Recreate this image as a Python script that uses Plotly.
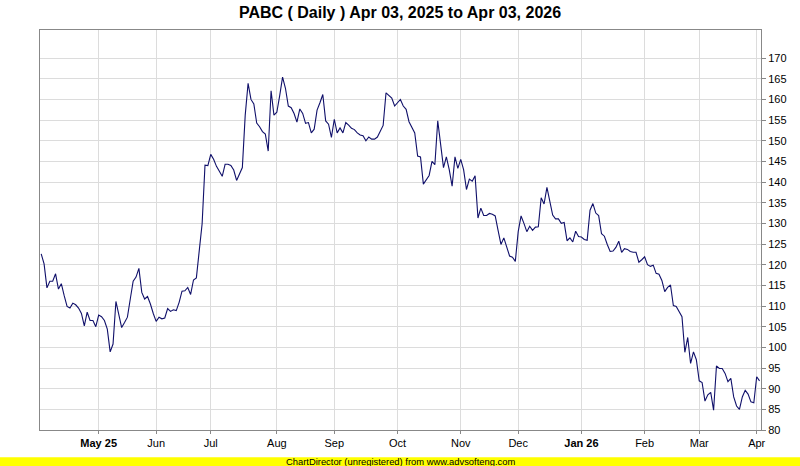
import pandas as pd
import plotly.graph_objects as go

# ---- data ----
start_date = "2025-04-03"
end_date = "2026-04-03"
# weekdays with no bar in the series (month-tick spacing)
missing_days = ["2025-05-16", "2025-05-26", "2025-06-06", "2025-06-19",
                "2025-08-15", "2025-10-13", "2025-12-25", "2026-02-16",
                "2026-03-13", "2026-03-27", "2026-04-03"]

close_apr_jun = [122.6, 120.2, 114.4, 116.0, 116.0, 117.8, 114.1, 115.4, 112.5,
                 109.9, 109.5, 110.7, 110.3, 109.5, 108.2, 105.2, 108.5, 106.5, 106.5, 105.0, 107.8,
                 107.4, 106.5, 104.4, 98.9, 100.8, 111.1, 108.1, 104.8, 106.0, 107.3, 111.7, 116.0, 117.0,
                 119.1, 113.3, 111.7, 112.3, 110.5, 108.2,
                 106.3, 107.3, 106.9, 107.1, 109.4, 108.7, 109.1, 108.9, 110.9, 113.6, 113.7, 114.5,
                 112.8, 116.3, 116.8]
close_jul_sep = [123.4, 129.9, 144.1,
                 144.0, 146.7, 145.5, 143.8, 142.4, 141.4, 144.3, 144.3, 144.0, 142.9, 140.4, 142.1,
                 143.5, 156.2, 163.9, 160.0, 158.9, 154.3, 153.4, 152.2, 151.6, 147.5,
                 162.1, 156.2, 156.9, 160.9, 165.4, 162.7, 158.4, 158.0, 156.6, 154.5, 157.7, 156.6,
                 154.2, 154.4, 151.9, 152.8, 157.4, 159.2, 161.2, 154.8, 154.0, 150.8]
close_oct_dec = [155.2, 151.9, 153.1, 151.9, 154.4, 153.8, 153.0, 152.7, 151.9, 151.4, 151.2, 150.0,
                 150.9, 150.4, 150.4, 150.9, 152.2, 153.7, 161.6, 160.9, 160.3, 158.4, 159.2, 160.0,
                 158.4, 157.6, 154.6,
                 153.1, 151.9, 146.3, 146.1, 139.5, 140.6, 141.6, 145.0, 144.2, 154.8, 149.7, 143.5,
                 146.1, 143.0, 139.0, 146.1, 143.3, 145.5, 143.0, 138.2, 140.7, 140.2, 141.5, 131.3,
                 133.7, 131.9, 131.9, 132.4, 132.2, 131.8, 128.3, 124.9, 126.5, 124.2, 122.1, 121.8,
                 120.8, 128.0, 131.8, 130.0, 128.0, 129.3, 128.3, 129.1, 129.2, 136.2]
close_jan_apr = [134.7, 138.7, 135.2, 132.0, 131.1, 131.1, 130.0, 130.2, 125.8, 126.5, 125.5, 128.1,
                 126.8, 126.7, 126.1, 125.9, 133.2, 134.8, 132.5, 131.9, 127.5, 126.9, 124.9, 123.2,
                 123.3, 124.2, 125.7, 123.0, 123.9, 123.7, 123.2, 123.0, 123.0, 120.6, 121.2, 121.9,
                 120.0, 119.6, 119.9, 117.9, 117.7, 116.2, 113.5, 114.5, 115.1, 110.1,
                 109.9, 108.5, 107.4, 98.8, 102.4, 96.1, 98.9, 97.0, 91.9, 91.5, 87.0, 88.5, 89.1,
                 84.8, 95.5, 94.9, 94.9, 93.7, 91.7, 92.5, 88.0, 85.8, 85.0, 88.0, 89.6, 88.7, 86.8,
                 86.6, 92.9, 91.9]

month_labels = ["<b>May 25</b>", "Jun", "Jul", "Aug", "Sep", "Oct", "Nov", "Dec",
                "<b>Jan 26</b>", "Feb", "Mar", "Apr"]
y_ticks = [80, 85, 90, 95, 100, 105, 110, 115, 120, 125, 130, 135, 140, 145, 150,
           155, 160, 165, 170]

# ---- build ----
close = close_apr_jun + close_jul_sep + close_oct_dec + close_jan_apr
days = pd.bdate_range(start_date, end_date)
days = days[~days.isin(pd.to_datetime(missing_days))]
n = min(len(days), len(close))
days = days[:n]
close = close[:n]
xcat = [d.strftime("%Y-%m-%d") for d in days]

# first session of each month (from May 2025)
tickvals = []
seen = set()
for d in days:
    key = (d.year, d.month)
    if key not in seen:
        seen.add(key)
        if not (d.year == 2025 and d.month == 4):
            tickvals.append(d.strftime("%Y-%m-%d"))
tickvals = tickvals[:len(month_labels)]

font = "Liberation Sans, Arial, sans-serif"

fig = go.Figure()
fig.add_trace(go.Scatter(x=xcat, y=close, mode="lines",
                         line=dict(color="#10106a", width=1.1),
                         hoverinfo="x+y"))

fig.update_layout(
    width=800, height=466,
    margin=dict(l=40, r=39, t=30, b=36, pad=0),
    paper_bgcolor="white", plot_bgcolor="white",
    showlegend=False,
    title=dict(text="<b>PABC ( Daily ) Apr 03, 2025 to Apr 03, 2026</b>",
               x=0.5, xanchor="center", xref="container",
               y=1 - 12.5 / 466, yanchor="middle", yref="container",
               font=dict(family=font, size=16, color="#000000")),
    font=dict(family=font, size=11, color="#000000"),
)

fig.update_xaxes(type="category", range=[-0.42, n - 0.5],
                 tickmode="array", tickvals=tickvals, ticktext=month_labels,
                 showgrid=True, gridcolor="#dcdcdc", gridwidth=1,
                 showline=True, linecolor="#888888", linewidth=1, mirror=True,
                 ticks="outside", ticklen=3, tickcolor="#888888",
                 tickfont=dict(family=font, size=11, color="#000000"),
                 zeroline=False)
fig.update_yaxes(side="right", range=[80, 176.8],
                 tickmode="array", tickvals=y_ticks,
                 showgrid=True, gridcolor="#dcdcdc", gridwidth=1,
                 showline=True, linecolor="#888888", linewidth=1, mirror=True,
                 ticks="outside", ticklen=4, tickcolor="#888888",
                 tickfont=dict(family=font, size=11, color="#000000"),
                 zeroline=False)

# yellow footer band with unregistered notice
plot_h = 430 - 30
fig.add_shape(type="rect", xref="paper", yref="paper",
              x0=-0.1, x1=1.1, y0=-(457.3 - 430) / plot_h, y1=-(470 - 430) / plot_h,
              fillcolor="#ffff00", line=dict(width=0), layer="below")
fig.add_annotation(text="ChartDirector (unregistered) from www.advsofteng.com",
                   xref="paper", yref="paper", x=0.5, y=-(461.7 - 430) / plot_h,
                   xanchor="center", yanchor="middle", showarrow=False,
                   font=dict(family=font, size=9.4, color="#000000"))

# remove the browser's default 8px page margin so the figure sits at (0, 0)
page_fix = ("document.body.style.margin='0';document.body.style.padding='0';"
            "document.body.style.overflow='hidden';")
fig.write_html("out.html", post_script=page_fix,
               config={"displayModeBar": False, "staticPlot": True})
